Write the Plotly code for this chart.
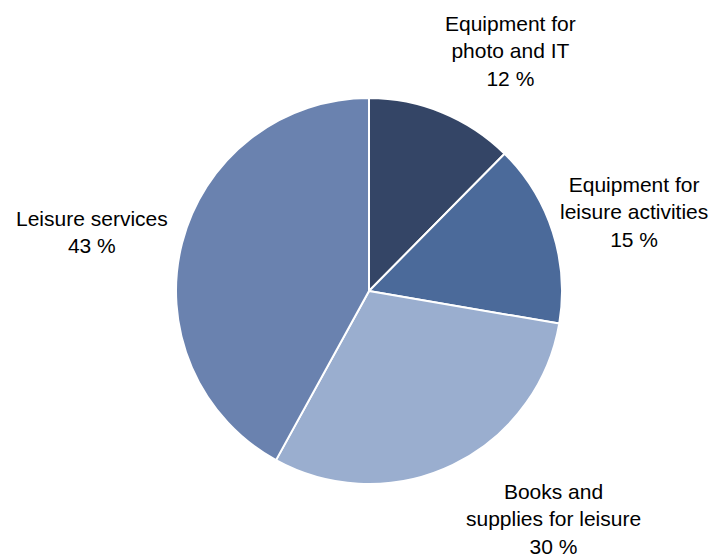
import plotly.graph_objects as go

categories = ["Equipment for<br>photo and IT", "Equipment for<br>leisure activities",
              "Books and<br>supplies for leisure", "Leisure services"]
shares = [12.4, 15.3, 30.3, 42.0]
pct_labels = ["12 %", "15 %", "30 %", "43 %"]
colors = ["#344566", "#4b6a9a", "#9aaecf", "#6a82af"]

# page body has an 8px margin, so the figure is drawn 8px in from the top-left
OFF = 8
W, H = 717 - OFF, 558 - OFF
# label centres (reference pixels) for the outside labels
label_pos = [(510, 51), (634, 212), (553, 519), (92, 232)]

def px(x):
    return (x - OFF) / W

def py(y):
    return 1 - (y - OFF) / H

fig = go.Figure(go.Pie(
    labels=categories,
    values=shares,
    sort=False,
    direction="clockwise",
    rotation=0,
    marker=dict(colors=colors, line=dict(color="white", width=2)),
    textinfo="none",
    hoverinfo="label+percent",
    showlegend=False,
    domain=dict(x=[px(176), px(562)], y=[py(484), py(98)]),
))

for cat, pct, (lx, ly) in zip(categories, pct_labels, label_pos):
    fig.add_annotation(
        text=f"{cat}<br>{pct}", x=px(lx), y=py(ly), xref="paper", yref="paper",
        xanchor="center", yanchor="middle", showarrow=False, align="center",
        font=dict(family="Liberation Sans, Arial, sans-serif", size=21, color="#000000"),
    )

fig.update_layout(
    width=W, height=H, margin=dict(l=0, r=0, t=0, b=0),
    paper_bgcolor="white", plot_bgcolor="white",
)
fig.write_html("out.html")
